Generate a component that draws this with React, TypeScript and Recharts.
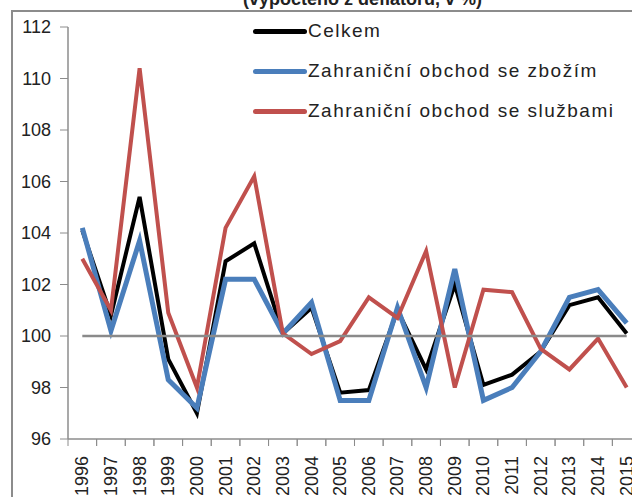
import { LineChart, Line, XAxis, YAxis, ReferenceLine } from 'recharts';

const years = [
  '1996', '1997', '1998', '1999', '2000', '2001', '2002', '2003', '2004', '2005',
  '2006', '2007', '2008', '2009', '2010', '2011', '2012', '2013', '2014', '2015',
];
const celkem = [104.1, 100.8, 105.4, 99.1, 97.0, 102.9, 103.6, 100.1, 101.1, 97.8, 97.9, 101.0, 98.7, 102.0, 98.1, 98.5, 99.4, 101.2, 101.5, 100.1];
const zbozi = [104.2, 100.2, 103.7, 98.3, 97.2, 102.2, 102.2, 100.1, 101.3, 97.5, 97.5, 101.1, 98.0, 102.6, 97.5, 98.0, 99.4, 101.5, 101.8, 100.5];
const sluzby = [103.0, 101.0, 110.4, 100.9, 98.0, 104.2, 106.2, 100.1, 99.3, 99.8, 101.5, 100.7, 103.3, 98.0, 101.8, 101.7, 99.5, 98.7, 99.9, 98.0];
const yTicks = [96, 98, 100, 102, 104, 106, 108, 110, 112];
const baseline = 100;

const seriesInfo = [
  { key: 'celkem', name: 'Celkem', color: '#000000', width: 4 },
  { key: 'zbozi', name: 'Zahraniční obchod se zbožím', color: '#4a7ebb', width: 5 },
  { key: 'sluzby', name: 'Zahraniční obchod se službami', color: '#c0504d', width: 4 },
];

const data = years.map((y, i) => ({
  year: y,
  celkem: celkem[i],
  zbozi: zbozi[i],
  sluzby: sluzby[i],
}));

const font = '"Liberation Sans", Arial, sans-serif';
const axisColor = '#8c8c8c';
const halfBand = 14.3;

// tick marks sit between categories, like in Excel
const YearTick = (props: any) => {
  const { x, y, payload } = props;
  return (
    <g>
      <line x1={x - halfBand} y1={y - 9} x2={x - halfBand} y2={y - 2} stroke={axisColor} />
      <line x1={x + halfBand} y1={y - 9} x2={x + halfBand} y2={y - 2} stroke={axisColor} />
      <text
        x={x + 6}
        y={y + 8}
        transform={`rotate(-90, ${x + 6}, ${y + 8})`}
        textAnchor="end"
        fontSize={18}
        fontFamily={font}
        fill="#222"
      >
        {payload.value}
      </text>
    </g>
  );
};

export default function App() {
  return (
    <div style={{ position: 'absolute', left: 0, top: 0, width: 632, height: 497, overflow: 'hidden', background: '#fff' }}>
      <div
        style={{
          position: 'absolute',
          left: 243,
          top: -11,
          fontFamily: font,
          fontSize: 18,
          fontWeight: 'bold',
          whiteSpace: 'nowrap',
          color: '#222',
        }}
      >
        (vypočteno z deflátorů, v %)
      </div>
      <div
        style={{
          position: 'absolute',
          left: 11,
          top: 10,
          width: 700,
          height: 600,
          borderLeft: `2px solid ${axisColor}`,
          borderTop: `2px solid ${axisColor}`,
        }}
      />
      <div style={{ position: 'absolute', left: 0, top: 0 }}>
        <LineChart
          width={660}
          height={520}
          data={data}
          margin={{ top: 27, right: 19, left: 0, bottom: 28 }}
        >
          <XAxis
            dataKey="year"
            interval={0}
            tick={<YearTick />}
            tickLine={false}
            axisLine={{ stroke: axisColor, strokeWidth: 1.5 }}
            tickSize={7}
            padding={{ left: halfBand, right: halfBand }}
            height={53}
          />
          <YAxis
            domain={[96, 112]}
            ticks={yTicks}
            interval={0}
            width={68}
            tick={{ fontSize: 18, fontFamily: font, fill: '#222' }}
            tickLine={{ stroke: axisColor }}
            axisLine={{ stroke: axisColor, strokeWidth: 1.5 }}
            tickSize={8}
            tickMargin={9}
          />
          {seriesInfo.map((s) => (
            <Line
              key={s.key}
              type="linear"
              dataKey={s.key}
              name={s.name}
              stroke={s.color}
              strokeWidth={s.width}
              dot={false}
              activeDot={false}
              isAnimationActive={false}
            />
          ))}
          <ReferenceLine
            segment={[
              { x: years[0], y: baseline },
              { x: years[years.length - 1], y: baseline },
            ]}
            stroke="#8a8a8a"
            strokeWidth={2.5}
          />
        </LineChart>
      </div>
      <div style={{ position: 'absolute', left: 253, top: 11, fontFamily: font, fontSize: 19, color: '#222' }}>
        {seriesInfo.map((s) => (
          <div key={s.key} style={{ display: 'flex', alignItems: 'center', height: 40, letterSpacing: 1.5, whiteSpace: 'nowrap' }}>
            <div style={{ width: 54, height: 5, borderRadius: 3, background: s.color, marginRight: 1 }} />
            <span>{s.name}</span>
          </div>
        ))}
      </div>
    </div>
  );
}
